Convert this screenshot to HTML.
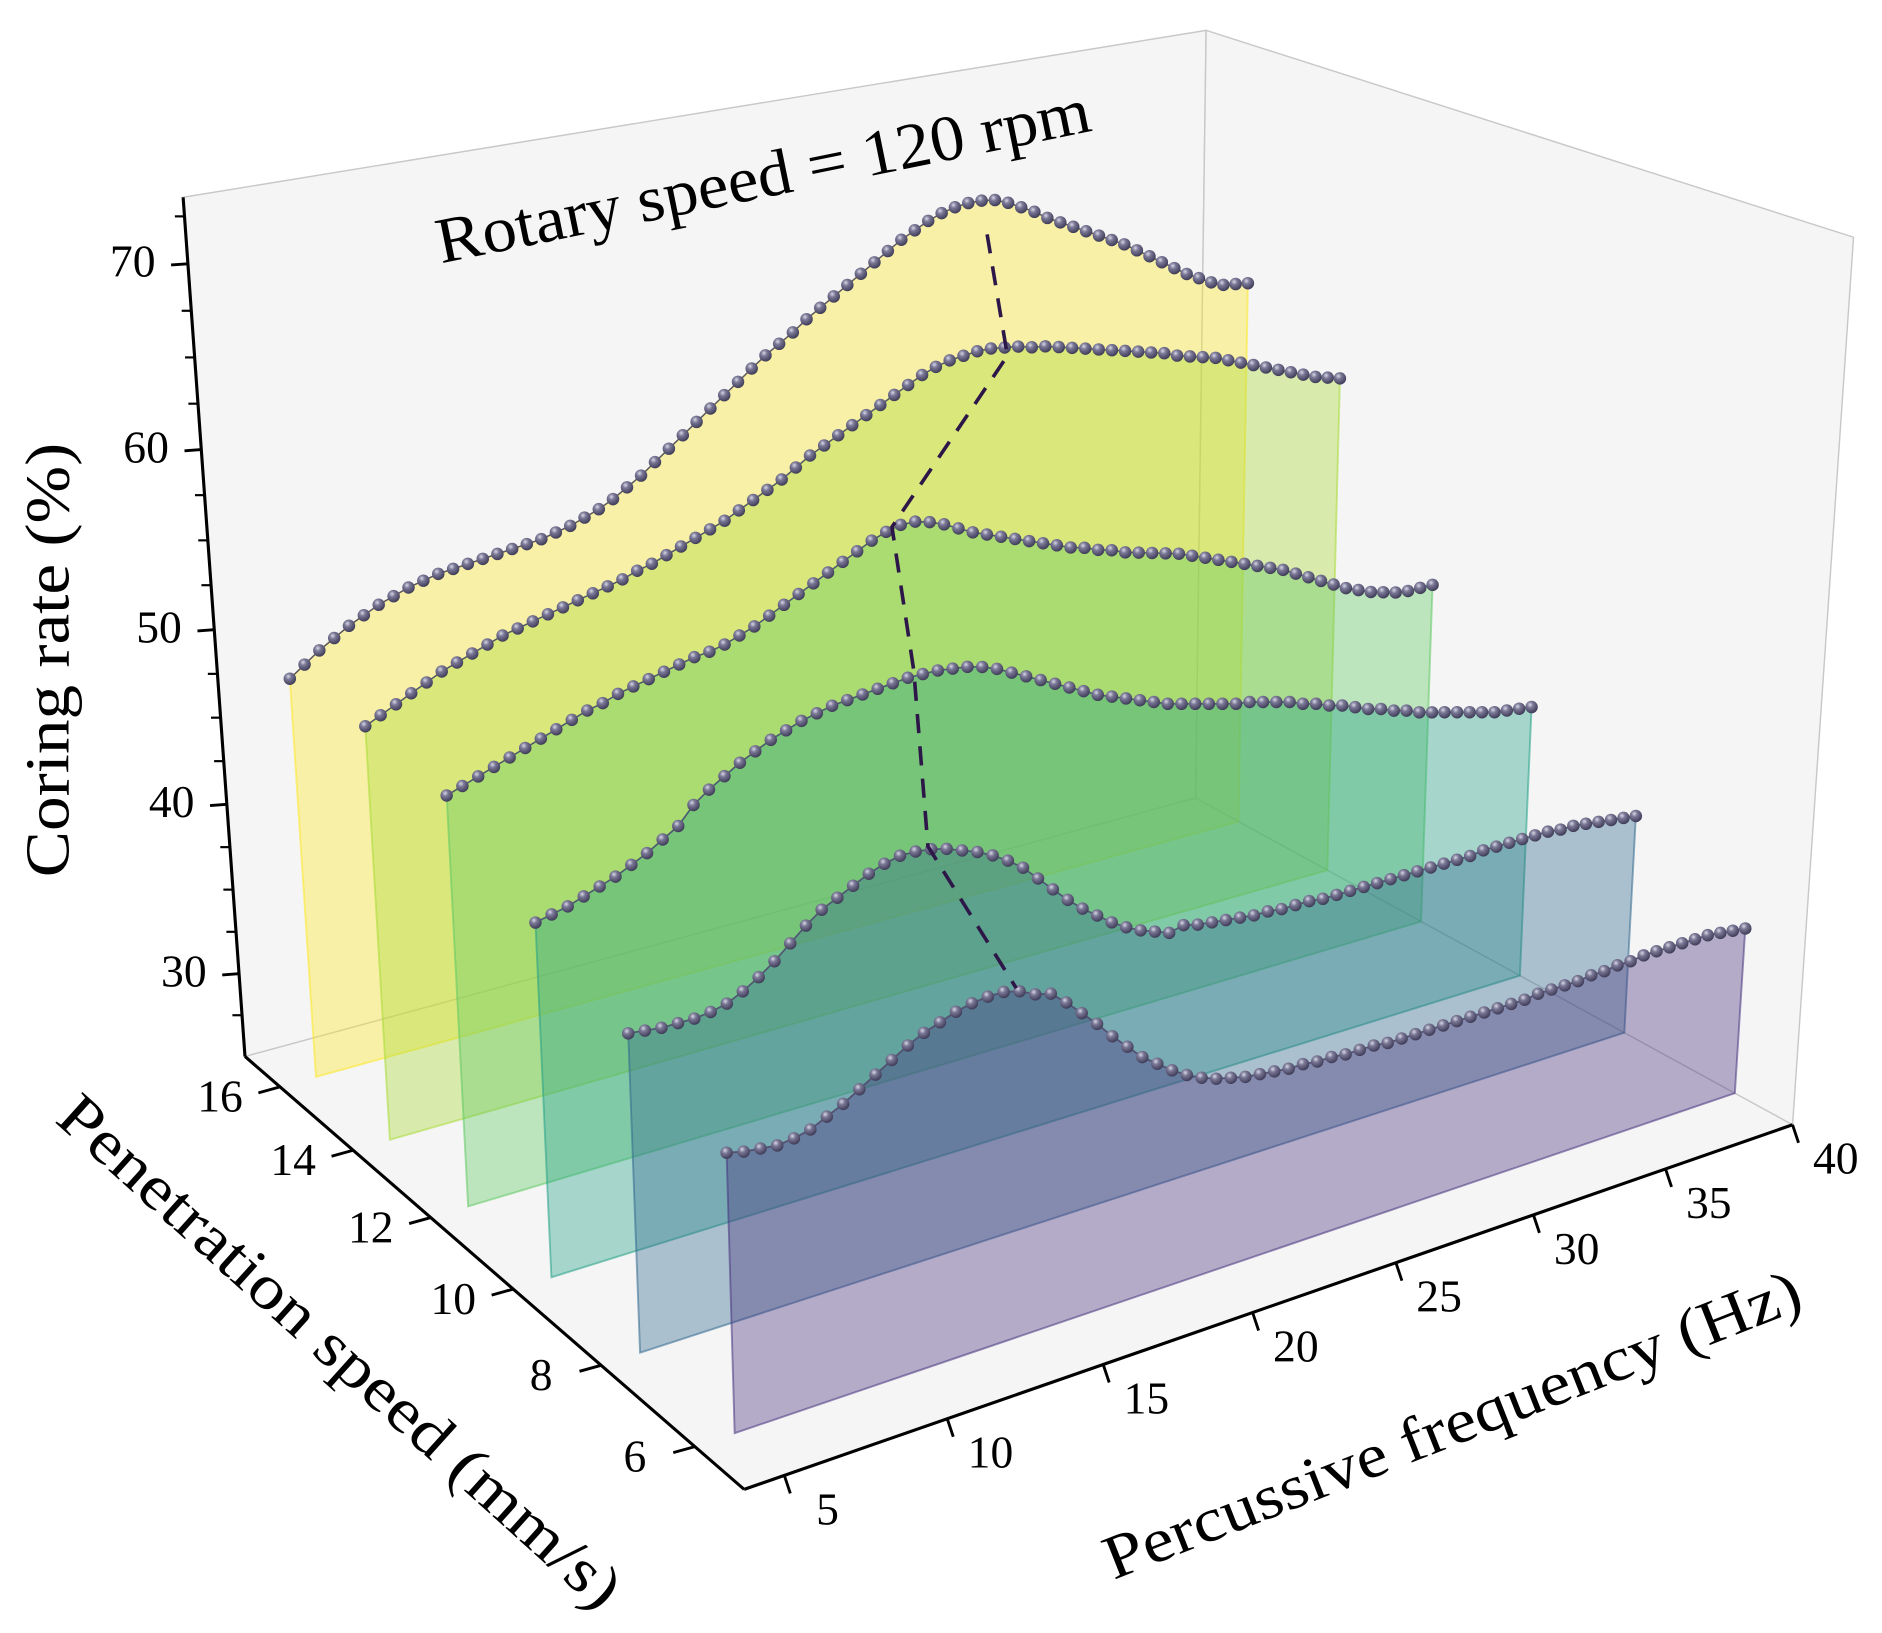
<!DOCTYPE html>
<html><head><meta charset="utf-8"><title>Coring rate 3D</title>
<style>
html,body{margin:0;padding:0;background:#fff;}
svg{display:block;}
text{font-family:"Liberation Serif","DejaVu Serif",serif;fill:#000;}
</style></head>
<body>
<svg id="chart" xmlns="http://www.w3.org/2000/svg" width="1882" height="1633" viewBox="0 0 1568.33 1360.83">
<defs>
<radialGradient id="ball" cx="0.38" cy="0.32" r="0.7">
<stop offset="0" stop-color="#d8d8e6"/><stop offset="0.35" stop-color="#7a7896"/><stop offset="1" stop-color="#3c3a55"/>
</radialGradient>
</defs>
<g id="panes"></g>
<g id="series"></g>
<g id="axes"></g>
<text x="637" y="152" font-size="54" textLength="555" lengthAdjust="spacingAndGlyphs" text-anchor="middle" dominant-baseline="middle" transform="rotate(-11.5 637 152)">Rotary speed = 120 rpm</text>
<text x="45" y="550" font-size="52" textLength="362" lengthAdjust="spacingAndGlyphs" text-anchor="middle" dominant-baseline="middle" transform="rotate(-90 45 550)">Coring rate (%)</text>
<text x="280" y="1130" font-size="52" textLength="612" lengthAdjust="spacingAndGlyphs" text-anchor="middle" dominant-baseline="middle" transform="rotate(42 280 1130)">Penetration speed (mm/s)</text>
<text x="1212" y="1192" font-size="52" textLength="620" lengthAdjust="spacingAndGlyphs" text-anchor="middle" dominant-baseline="middle" transform="rotate(-21.5 1212 1192)">Percussive frequency (Hz)</text>
</svg>
<script>
// ---- data ----
const freqStart = 5, freqStep = 0.5;
const speeds = [16, 14, 12, 10, 8, 6];
const rate16 = [48.2,48.8,49.4,49.9,50.4,50.8,51.2,51.5,51.8,52.0,52.2,52.3,52.4,52.5,52.6,52.7,52.8,52.9,53.1,53.3,53.6,53.9,54.3,54.8,55.3,55.9,56.5,57.1,57.7,58.3,58.9,59.5,60.1,60.7,61.2,61.7,62.3,62.8,63.3,63.8,64.3,64.8,65.3,65.8,66.2,66.6,66.9,67.1,67.2,67.2,67.1,66.8,66.4,66.0,65.5,65.1,64.7,64.3,63.9,63.5,63.1,62.6,62.1,61.6,61.1,60.6,60.2,59.8,59.5,59.4,59.3];
const rate14 = [48.5,48.9,49.3,49.7,50.1,50.5,50.8,51.1,51.4,51.7,51.9,52.1,52.3,52.5,52.7,52.9,53.1,53.3,53.6,53.8,54.1,54.4,54.7,55.0,55.3,55.7,56.1,56.5,56.9,57.4,57.9,58.3,58.7,59.1,59.5,59.9,60.3,60.7,61.1,61.4,61.6,61.7,61.8,61.8,61.7,61.6,61.4,61.3,61.1,60.9,60.7,60.5,60.3,60.1,59.9,59.7,59.5,59.2,59.0,58.8,58.6,58.3,58.0,57.7,57.4,57.1,56.8,56.5,56.2,56.0,55.8];
const rate12 = [47.8,48.1,48.4,48.7,49.0,49.3,49.6,49.9,50.2,50.5,50.7,51.0,51.2,51.4,51.6,51.8,52.0,52.1,52.3,52.6,52.9,53.3,53.7,54.1,54.5,54.9,55.3,55.7,56.1,56.4,56.6,56.6,56.4,56.1,55.7,55.3,55.0,54.7,54.4,54.1,53.8,53.5,53.2,53.0,52.7,52.5,52.2,52.0,51.8,51.6,51.4,51.1,50.8,50.5,50.2,49.9,49.6,49.3,49.0,48.6,48.2,47.8,47.4,47.0,46.7,46.4,46.2,46.0,45.9,45.9,45.9];
const rate10 = [44.3,44.5,44.7,45.0,45.3,45.6,46.0,46.4,46.9,47.4,48.3,48.9,49.4,49.9,50.3,50.7,51.0,51.3,51.5,51.7,51.8,51.9,52.0,52.1,52.2,52.2,52.2,52.1,52.0,51.8,51.5,51.1,50.7,50.3,49.9,49.5,49.1,48.7,48.4,48.1,47.8,47.5,47.2,47.0,46.8,46.6,46.4,46.2,46.1,45.9,45.7,45.5,45.2,45.0,44.7,44.5,44.2,43.9,43.7,43.4,43.2,42.9,42.7,42.5,42.3,42.1,41.9,41.7,41.6,41.5,41.4];
const rate8 = [42.0,41.9,41.8,41.8,41.8,41.9,42.1,42.5,43.0,43.6,44.3,45.0,45.6,46.0,46.4,46.8,47.1,47.3,47.3,47.2,47.0,46.7,46.4,46.0,45.5,44.9,44.1,43.3,42.5,41.8,41.2,40.6,40.1,39.7,39.4,39.1,39.3,39.1,39.0,38.9,38.8,38.7,38.7,38.6,38.6,38.6,38.5,38.5,38.5,38.5,38.5,38.5,38.5,38.5,38.5,38.5,38.5,38.5,38.6,38.6,38.6,38.6,38.6,38.6,38.5,38.5,38.4,38.3,38.2,38.1,38.0];
const rate6 = [39.6,39.4,39.3,39.2,39.3,39.5,39.9,40.3,40.8,41.3,41.8,42.3,42.7,43.0,43.3,43.5,43.6,43.6,43.4,43.0,42.8,42.1,41.3,40.5,39.6,38.8,38.0,37.4,36.8,36.3,35.9,35.6,35.4,35.2,35.1,35.0,34.9,34.9,34.8,34.8,34.7,34.7,34.7,34.6,34.6,34.6,34.6,34.6,34.6,34.6,34.6,34.6,34.6,34.6,34.7,34.7,34.7,34.7,34.8,34.8,34.9,34.9,35.0,35.0,35.0,35.0,35.0,35.0,34.9,34.8,34.7];
const rates = [rate16, rate14, rate12, rate10, rate8, rate6];
const optimalFreq = [29.7, 27.1, 19.7, 17.2, 14.4, 13.9];
const optimalRate = [65.2, 61.2, 56.6, 52.5, 47.4, 43.6];
const freqTicks = [5, 10, 15, 20, 25, 30, 35, 40];
const speedTicks = [6, 8, 10, 12, 14, 16];
const rateTicks = [30, 40, 50, 60, 70];
const rateMinorTicks = [27.5, 32.5, 35, 37.5, 42.5, 45, 47.5, 52.5, 55, 57.5, 62.5, 65, 67.5, 72.5];
const colors = ["#fde725", "#a8db34", "#5ec962", "#23a085", "#31688e", "#46337e"];

// ---- projection (fit to axes box) ----
const F0 = 3.8, F1 = 40, V0 = 5, V1 = 17, Z0 = 25, Z1 = 73.5;
const calib = [
 [3.8,5,25,620,1239],[40,5,25,1492,936],[3.8,17,25,204,879],[40,17,25,997,665],
 [3.8,17,73.5,153,165],[40,17,73.5,1003,25],[40,5,73.5,1546,199],
 [10,5,25,787,1182],[20,5,25,1044,1094],[30,5,25,1281,1013],
 [3.8,6,25,578,1206],[3.8,10,25,428,1075],[3.8,14,25,295,961],
 [3.8,17,30,199,812],[3.8,17,50,179,525],[3.8,17,70,157,218]
];
function nrm(f,v,z){return [(f-F0)/(F1-F0),(v-V0)/(V1-V0),(z-Z0)/(Z1-Z0)];}
const P = (function(){
  const rows=[], rhs=[];
  calib.forEach(c=>{
    const [X,Y,Z]=nrm(c[0],c[1],c[2]); const x=c[3]/1000, y=c[4]/1000;
    rows.push([X,Y,Z,1,0,0,0,0,-x*X,-x*Y,-x*Z]); rhs.push(x);
    rows.push([0,0,0,0,X,Y,Z,1,-y*X,-y*Y,-y*Z]); rhs.push(y);
  });
  const n=11, M=[];
  for(let i=0;i<n;i++){M.push(new Array(n+1).fill(0));}
  rows.forEach((r,k)=>{for(let i=0;i<n;i++){for(let j=0;j<n;j++)M[i][j]+=r[i]*r[j];M[i][n]+=r[i]*rhs[k];}});
  for(let c=0;c<n;c++){
    let p=c;for(let r=c+1;r<n;r++)if(Math.abs(M[r][c])>Math.abs(M[p][c]))p=r;
    [M[c],M[p]]=[M[p],M[c]];
    for(let r=0;r<n;r++){if(r===c)continue;const fct=M[r][c]/M[c][c];for(let j=c;j<=n;j++)M[r][j]-=fct*M[c][j];}
  }
  return M.map((r,i)=>r[n]/r[i]);
})();
function proj(f,v,z){
  const [X,Y,Z]=nrm(f,v,z);
  const w=P[8]*X+P[9]*Y+P[10]*Z+1;
  return [1000*(P[0]*X+P[1]*Y+P[2]*Z+P[3])/w, 1000*(P[4]*X+P[5]*Y+P[6]*Z+P[7])/w];
}
const NS="http://www.w3.org/2000/svg";
function mk(tag,parent,attrs){const e=document.createElementNS(NS,tag);for(const k in attrs)e.setAttribute(k,attrs[k]);parent.appendChild(e);return e;}
function pts(a){return a.map(p=>p[0].toFixed(1)+","+p[1].toFixed(1)).join(" ");}

// ---- panes ----
const panes=document.getElementById("panes");
const floor=mk("polygon",panes,{points:pts([proj(F0,V0,Z0),proj(F1,V0,Z0),proj(F1,V1,Z0),proj(F0,V1,Z0)]),fill:"#f5f5f5",stroke:"#d0d0d0","stroke-width":1});


const back=mk("polygon",panes,{points:pts([proj(F0,V1,Z0),proj(F1,V1,Z0),proj(F1,V1,Z1),proj(F0,V1,Z1)]),fill:"#f5f5f5",stroke:"#c8c8c8","stroke-width":1.2});


const side=mk("polygon",panes,{points:pts([proj(F1,V0,Z0),proj(F1,V1,Z0),proj(F1,V1,Z1),proj(F1,V0,Z1)]),fill:"#f5f5f5",stroke:"#c8c8c8","stroke-width":1.2});



// ---- series ----
const sg=document.getElementById("series");
speeds.forEach((v,si)=>{
  const vals=rates[si];
  const g=mk("g",sg,{});
  
  
  const curve=vals.map((z,i)=>proj(freqStart+i*freqStep,v,z));
  const fLast=freqStart+(vals.length-1)*freqStep;
  const poly=curve.concat([proj(fLast,v,Z0),proj(freqStart,v,Z0)]);
  const area=mk("polygon",g,{points:pts(poly),fill:colors[si],"fill-opacity":0.38,stroke:colors[si],"stroke-opacity":0.55,"stroke-width":1.6});
  
  
  const line=mk("polyline",g,{points:pts(curve),fill:"none",stroke:"#55536e","stroke-width":1.2});
  
  
  curve.forEach((p,i)=>{
    const c=mk("circle",g,{cx:p[0].toFixed(1),cy:p[1].toFixed(1),r:5.2,fill:"url(#ball)"});
    
    
  });
});
// optimum dashed line
const opt=speeds.map((v,i)=>proj(optimalFreq[i],v,optimalRate[i]));
const dash=mk("polyline",sg,{points:pts(opt),fill:"none",stroke:"#2d1748","stroke-width":3,"stroke-dasharray":"16,11"});



// ---- axes ----
const ag=document.getElementById("axes");
function axisLine(a,b,name){const l=mk("line",ag,{x1:a[0],y1:a[1],x2:b[0],y2:b[1],stroke:"#000","stroke-width":2.6});}
axisLine(proj(F0,V1,Z0),proj(F0,V1,Z1),'z-axis-line');
axisLine(proj(F0,V0,Z0),proj(F0,V1,Z0),'y-axis-line');
axisLine(proj(F0,V0,Z0),proj(F1,V0,Z0),'x-axis-line');
freqTicks.forEach(t=>{
  const p=proj(t,V0,Z0);
  const l=mk("line",ag,{x1:p[0],y1:p[1],x2:p[0]+5,y2:p[1]+15,stroke:"#000","stroke-width":2.4});
  
  
  const tx=mk("text",ag,{x:p[0]+36,y:p[1]+32,"font-size":38,"text-anchor":"middle","dominant-baseline":"middle"});
  tx.textContent=t;
  
  
});
speedTicks.forEach(t=>{
  const p=proj(F0,t,Z0);
  const l=mk("line",ag,{x1:p[0],y1:p[1],x2:p[0]-18,y2:p[1]+5,stroke:"#000","stroke-width":2.4});
  
  
  const tx=mk("text",ag,{x:p[0]-50,y:p[1]+12,"font-size":38,"text-anchor":"middle","dominant-baseline":"middle"});
  tx.textContent=t;
  
  
});
rateTicks.forEach(t=>{
  const p=proj(F0,V1,t);
  const l=mk("line",ag,{x1:p[0],y1:p[1],x2:p[0]-14,y2:p[1]+1,stroke:"#000","stroke-width":2.4});
  
  
  const tx=mk("text",ag,{x:p[0]-46,y:p[1]+2,"font-size":38,"text-anchor":"middle","dominant-baseline":"middle"});
  tx.textContent=t;
  
  
});
rateMinorTicks.forEach(t=>{
  const p=proj(F0,V1,t);
  const l=mk("line",ag,{x1:p[0],y1:p[1],x2:p[0]-8,y2:p[1],stroke:"#000","stroke-width":1.8});
  
  
});
</script>
</body></html>
